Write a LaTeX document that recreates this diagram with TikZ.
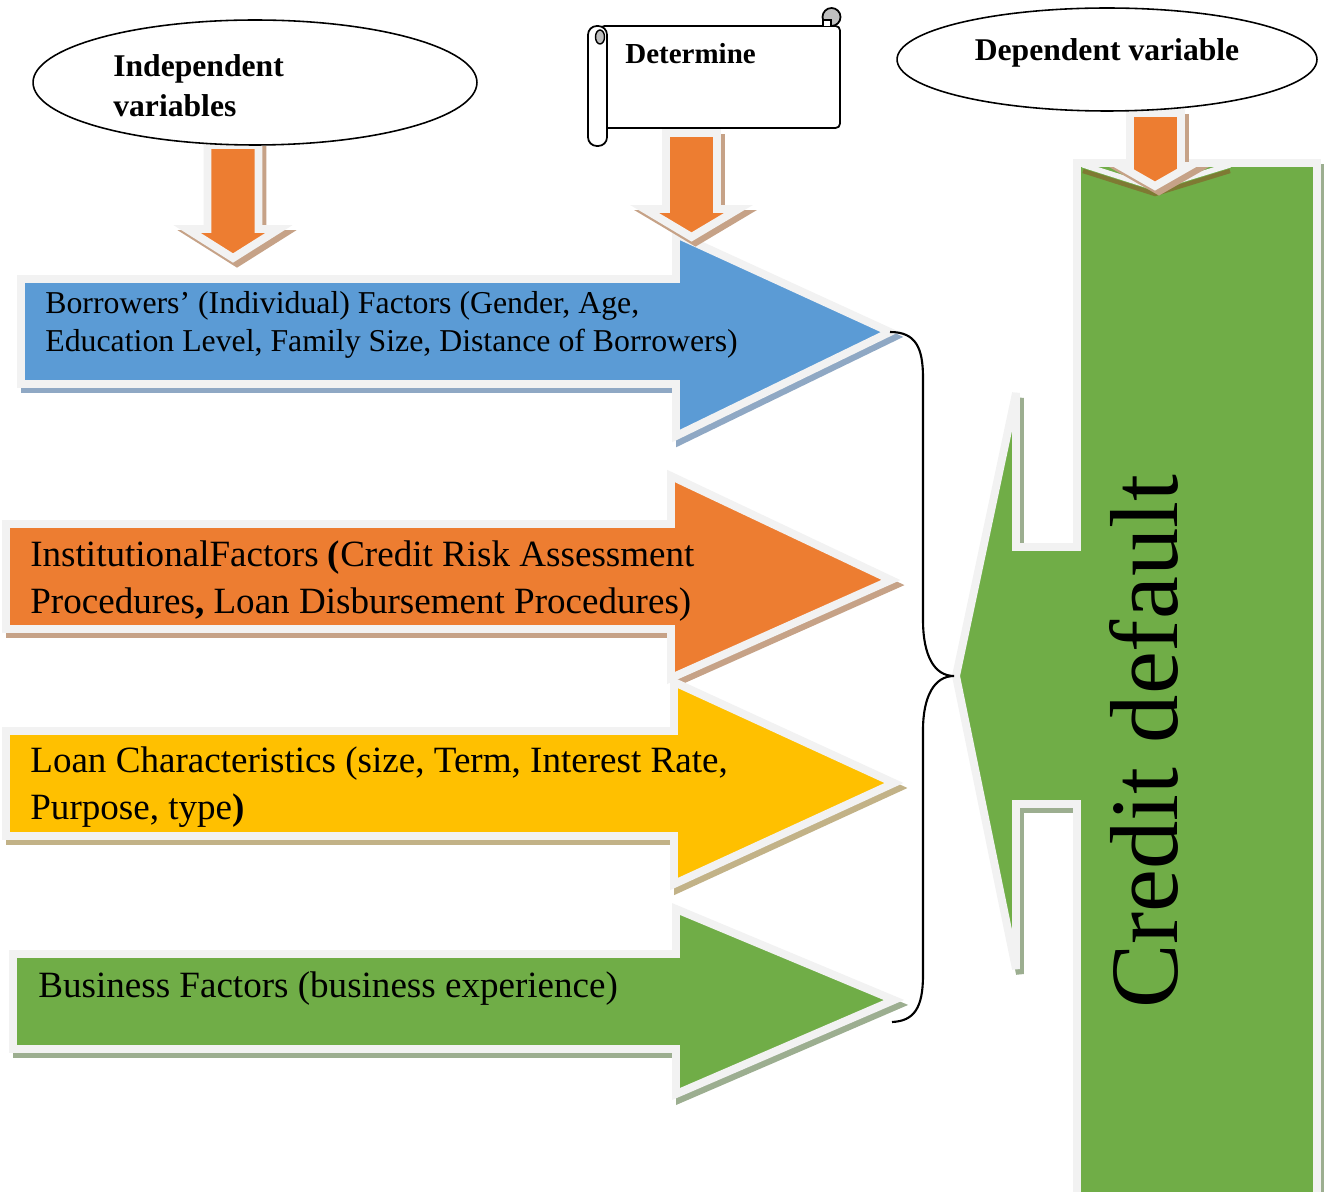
\documentclass[tikz,border=0pt]{standalone}
\usepackage{fontspec}
\setmainfont{Liberation Serif}
\usetikzlibrary{shapes.geometric}
\definecolor{blueF}{HTML}{5B9BD5}
\definecolor{orangeF}{HTML}{ED7D31}
\definecolor{yellowF}{HTML}{FFC000}
\definecolor{greenF}{HTML}{70AD47}
\definecolor{glowc}{HTML}{F2F2F2}
\definecolor{blueSh}{HTML}{8FA8C4}
\definecolor{orangeSh}{HTML}{C6A287}
\definecolor{yellowSh}{HTML}{C2B287}
\definecolor{greenSh}{HTML}{9CAE90}
\definecolor{tanSh}{HTML}{C6A287}
\definecolor{oliveSh}{HTML}{7E7A33}
\definecolor{scrollg}{HTML}{BFBFBF}
\tikzset{
  glow/.style={draw=glowc, line width=4.5pt, line join=miter, miter limit=6},
  shad/.style={draw=#1, fill=#1, line width=4.5pt, line join=miter, miter limit=6, shift={(4,5)}},
  lbl/.style={anchor=west, align=left, inner sep=0pt},
  ovalbox/.style={ellipse, draw, fill=white, line width=0.9pt, inner sep=0pt},
  scrollline/.style={line width=1pt},
}
\newcommand\dnarrow[7]{%
  \path[shad=#7] (#1-#2,#4) -- (#1+#2,#4) -- (#1+#2,#5) -- (#1+#3,#5) -- (#1,#6) -- (#1-#3,#5) -- (#1-#2,#5) -- cycle;
  \path[glow, fill=orangeF] (#1-#2,#4) -- (#1+#2,#4) -- (#1+#2,#5) -- (#1+#3,#5) -- (#1,#6) -- (#1-#3,#5) -- (#1-#2,#5) -- cycle;}
\begin{document}
\begin{tikzpicture}[x=0.02cm, y=-0.02cm]
\useasboundingbox (0,0) rectangle (1324,1192);

% big right arrows
\path[shad=blueSh] (21,279) -- (676,279) -- (676,234) -- (890,332) -- (676,436) -- (676,384) -- (21,384) -- cycle;
\path[glow, fill=blueF] (21,279) -- (676,279) -- (676,234) -- (890,332) -- (676,436) -- (676,384) -- (21,384) -- cycle;

\path[shad=orangeSh] (6,524) -- (671,524) -- (671,476) -- (891,580) -- (671,678) -- (671,629) -- (6,629) -- cycle;
\path[glow, fill=orangeF] (6,524) -- (671,524) -- (671,476) -- (891,580) -- (671,678) -- (671,629) -- (6,629) -- cycle;

\path[shad=yellowSh] (6,731) -- (674,731) -- (674,682) -- (894,783) -- (674,884) -- (674,836) -- (6,836) -- cycle;
\path[glow, fill=yellowF] (6,731) -- (674,731) -- (674,682) -- (894,783) -- (674,884) -- (674,836) -- (6,836) -- cycle;

\path[shad=greenSh] (13,954) -- (676,954) -- (676,909) -- (894,1000) -- (676,1094) -- (676,1049) -- (13,1049) -- cycle;
\path[glow, fill=greenF] (13,954) -- (676,954) -- (676,909) -- (894,1000) -- (676,1094) -- (676,1049) -- (13,1049) -- cycle;

% credit default shape
\path[shad=greenSh, miter limit=3] (1077,163) -- (1317,163) -- (1317,1196) -- (1077,1196) -- (1077,804) -- (1016,804) -- (1016,969) -- (956,676) -- (1016,393) -- (1016,547) -- (1077,547) -- cycle;
\path[glow, miter limit=3, fill=greenF] (1077,163) -- (1317,163) -- (1317,1196) -- (1077,1196) -- (1077,804) -- (1016,804) -- (1016,969) -- (956,676) -- (1016,393) -- (1016,547) -- (1077,547) -- cycle;

% down arrows
\dnarrow{233}{25.5}{46}{145}{229}{258}{tanSh}
\dnarrow{691.5}{25.5}{47}{133}{209}{237}{tanSh}
\draw[draw=oliveSh, line width=2.5pt] (1083,171) -- (1155,194) -- (1230,171);
\draw[draw=glowc, line width=3pt] (1083,165) -- (1155,188) -- (1230,165);
\path[shad=tanSh] (1130,113) -- (1181,113) -- (1181,166) -- (1190,166) -- (1155,186) -- (1120,166) -- (1130,166) -- cycle;
\path[glow, fill=orangeF] (1130,113) -- (1181,113) -- (1181,166) -- (1190,166) -- (1155,186) -- (1120,166) -- (1130,166) -- cycle;

% ellipses
\node[ovalbox, minimum width=8.88cm, minimum height=2.5cm] (iv) at (255,82.5) {};
\node[lbl, font=\bfseries\fontsize{18}{22.7}\selectfont] (ivt) at (113,86) {Independent\\variables};
\node[ovalbox, minimum width=8.4cm, minimum height=2.06cm] (dv) at (1107,59.5) {};
\node[inner sep=0pt, font=\bfseries\fontsize{18}{22}\selectfont] (dvt) at (1107,53) {Dependent variable};

% scroll
\draw[scrollline, fill=white, rounded corners=2.5pt] (600,26) rectangle (840,128);
\draw[scrollline, fill=scrollg] (831.5,17) circle [radius=0.18cm];
\draw[scrollline, fill=white] (823,26) -- (823,20) -- (831,20) -- (831,26);
\draw[scrollline, fill=white, rounded corners=5pt] (588,26) rectangle (607,146);
\draw[line width=0.8pt, fill=scrollg] (600,37) ellipse [x radius=0.09cm, y radius=0.14cm];
\node[lbl, font=\bfseries\fontsize{16.5}{20}\selectfont] (dt) at (625,54) {Determine};

% arrow texts
\node[lbl, font=\fontsize{18.1}{21.5}\selectfont] (t1) at (45,325) {Borrowers’ (Individual) Factors (Gender, Age,\\Education Level, Family Size, Distance of Borrowers)};
\node[lbl, font=\fontsize{21.1}{26.6}\selectfont] (t2) at (30,581) {InstitutionalFactors \textbf{(}Credit Risk Assessment\\Procedures\textbf{,} Loan Disbursement Procedures)};
\node[lbl, font=\fontsize{21.1}{26.6}\selectfont] (t3) at (30,787) {Loan Characteristics (size, Term, Interest Rate,\\Purpose, type\textbf{)}};
\node[lbl, font=\fontsize{21.1}{26.6}\selectfont] (t4) at (38,989) {Business Factors (business experience)};

\node[rotate=90, inner sep=0pt, font=\fontsize{55}{60}\selectfont] (cd) at (1144,742) {Credit default};

% brace
\draw[line width=1.2pt] (890,332) .. controls (916,332) and (923,348) .. (923,378) -- (923,620) .. controls (923,655) and (934,676) .. (954,676) .. controls (934,676) and (923,697) .. (923,730) -- (923,975) .. controls (923,1008) and (914,1021) .. (892,1022);
\end{tikzpicture}
\end{document}
